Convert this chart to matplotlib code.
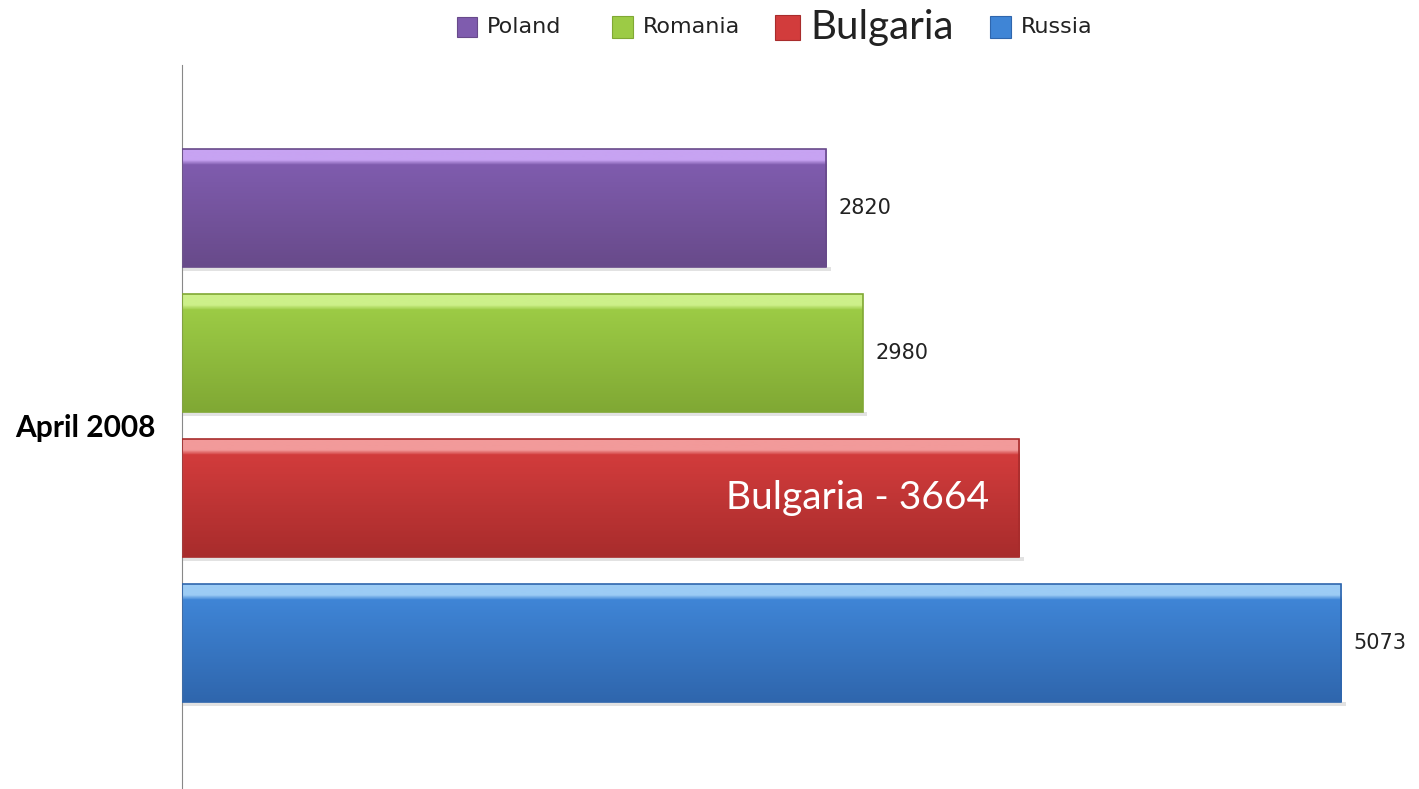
import numpy as np
import matplotlib
matplotlib.use("Agg")
import matplotlib.pyplot as plt
from matplotlib.colors import LinearSegmentedColormap
from matplotlib.patches import Rectangle

countries = ["Poland", "Romania", "Bulgaria", "Russia"]
values = [2820, 2980, 3664, 5073]
period = "April 2008"
# light top, main, dark bottom
shades = [
    ("#c7a3f2", "#7f5cae", "#684a8a"),
    ("#cdf08a", "#9ccb45", "#80a834"),
    ("#f29a9a", "#d23c3c", "#a82c2c"),
    ("#9cccf5", "#3f85d6", "#2f66ad"),
]

plt.rcParams['font.family'] = ['Lato', 'DejaVu Sans']

W, H = 1419, 789
fig = plt.figure(figsize=(W / 100, H / 100), dpi=100)
ax = fig.add_axes([182 / W, 0, 1 - 182 / W, (H - 65) / H])

ypos = np.arange(len(countries))[::-1]
bars = ax.barh(ypos, values, height=0.81, color="none", edgecolor="none")

for bar, (light, mid, dark) in zip(bars, shades):
    x0, y0 = bar.get_x(), bar.get_y()
    w, h = bar.get_width(), bar.get_height()
    cmap = LinearSegmentedColormap.from_list("g", [(0, dark), (0.87, mid), (0.91, light), (1, light)])
    grad = np.linspace(0, 1, 200).reshape(-1, 1)
    ax.imshow(grad, cmap=cmap, aspect="auto", origin="lower",
              extent=(x0, x0 + w, y0, y0 + h), zorder=2)
    ax.add_patch(Rectangle((x0, y0), w, h, fill=False, edgecolor=dark, lw=1.2, zorder=3))
    # soft shadow
    ax.add_patch(Rectangle((x0, y0 - 0.03), w + 20, 0.03, color="#e2e2e2", lw=0, zorder=1))

for y, v, name in zip(ypos, values, countries):
    if name == "Bulgaria":
        ax.text(v - 130, y, f"{name} - {v}", color="white", fontsize=28,
                ha="right", va="center", zorder=4)
    else:
        ax.text(v + 55, y, str(v), fontsize=15, ha="left", va="center",
                color="#222222", family="DejaVu Sans")

ax.set_xlim(0, 5414)
ax.set_ylim(-1.007, 3.986)
ax.set_yticks([1.5])
ax.set_yticklabels([period], fontsize=21.5, fontweight="bold")
ax.tick_params(axis="y", length=0, pad=19)
ax.set_xticks([])
for s in ["top", "right", "bottom"]:
    ax.spines[s].set_visible(False)
ax.spines["left"].set_color("#888888")

# legend drawn by hand along the top (pixel layout)
leg_x = [457, 612, 775, 990]
leg_size = [20, 21, 25, 21]
leg_font = [16, 16, 29, 16]
cy = 27
for i, name in enumerate(countries):
    s = leg_size[i]
    fig.patches.append(Rectangle((leg_x[i] / W, 1 - (cy + s / 2) / H), s / W, s / H,
                                 transform=fig.transFigure, facecolor=shades[i][1],
                                 edgecolor=shades[i][2], lw=0.8))
    fam = "Lato" if name == "Bulgaria" else "DejaVu Sans"
    fig.text((leg_x[i] + s + 10) / W, 1 - cy / H, name, fontsize=leg_font[i],
             family=fam, va="center", ha="left", color="#222222")

fig.savefig("out.png", dpi=100)
